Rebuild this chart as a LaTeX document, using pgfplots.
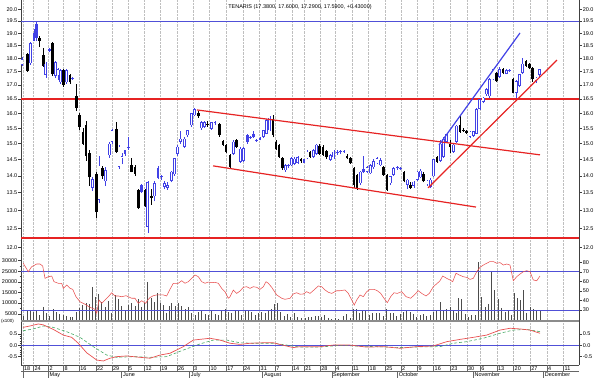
\documentclass[border=0pt]{standalone}
\usepackage{pgfplots}
\pgfplotsset{compat=1.18}
\usepackage{pgfplotstable}
\usepackage{fontspec}
\setmainfont{Liberation Sans}
\definecolor{cblue}{RGB}{65,65,230}
\definecolor{lred}{RGB}{230,35,35}
\definecolor{hblue}{RGB}{80,80,215}
\definecolor{rsired}{RGB}{232,80,80}
\definecolor{sgreen}{RGB}{70,170,100}
\newcommand\tl{\fontsize{5.5}{6}\selectfont}

\pgfplotstableread{
x o h l c t
22 17.75 18.05 17.70 17.97 0
27.3 18.17 18.22 17.50 17.53 1
30.3 17.82 18.65 17.75 18.60 0
34 18.70 19.18 18.68 19.00 2
36.7 18.80 19.48 18.69 19.40 2
39.5 18.82 18.87 18.44 18.70 1
43.5 18.15 18.40 17.68 17.72 1
45.8 17.38 17.85 17.28 17.80 0
49.3 18.28 18.40 18.25 18.36 2
52.5 18.60 18.65 17.35 17.40 1
55.5 17.35 17.90 17.28 17.85 0
58 17.36 17.65 17.20 17.60 0
60.5 17.10 17.60 17.05 17.55 0
63.5 17.55 17.60 16.95 17.00 1
66.3 17.10 17.60 17.05 17.55 0
70 17.36 17.40 17.05 17.10 1
72.7 17.22 17.30 17.18 17.26 2
76.7 16.60 17.05 16.10 16.20 1
79.5 15.95 16.00 15.45 15.55 1
83 15.38 15.50 14.95 15.00 1
86 15.60 15.75 14.45 14.60 1
89.3 14.70 14.80 13.70 13.95 1
92.7 13.65 13.95 13.55 13.90 0
96.3 14.05 14.12 12.80 12.95 1
99 13.30 14.60 13.20 14.30 0
102.7 14.22 14.30 13.90 13.98 1
105.5 13.83 14.25 13.70 14.17 0
109.3 14.63 15.05 14.55 15.00 0
112 15.06 15.48 15.00 15.43 0
116.5 15.48 15.70 14.70 14.74 1
119 14.27 14.95 14.20 14.90 0
122 14.55 14.70 14.35 14.60 0
125 14.67 14.80 14.62 14.78 2
128.3 14.85 15.20 14.80 14.90 2
131.7 14.32 14.55 14.10 14.12 1
135 14.27 14.32 14.00 14.06 1
138.3 13.58 13.62 13.05 13.07 1
141.7 13.53 13.75 13.50 13.73 2
145 13.58 13.62 13.10 13.12 1
147.8 12.55 13.85 12.38 13.80 0
151.7 13.40 13.60 13.15 13.35 1
154.5 13.40 13.85 13.25 13.78 0
158.2 13.93 14.28 13.90 14.24 2
161.3 13.95 14.02 13.88 14.00 2
164.3 13.68 13.85 13.60 13.78 0
167.4 13.65 13.80 13.58 13.72 0
171.2 13.84 14.15 13.80 14.12 0
174.5 14.04 14.55 14.00 14.53 0
177.6 14.67 14.95 14.62 14.90 0
180.7 15.06 15.40 15.00 15.16 0
184.3 14.90 15.20 14.85 15.16 0
187.4 15.27 15.45 15.20 15.43 0
191.2 15.60 16.02 15.55 16.00 0
194.7 15.93 16.17 15.90 16.15 0
198.3 16.02 16.08 15.85 15.90 1
201.5 15.50 15.75 15.45 15.70 0
204.5 15.55 15.75 15.50 15.70 0
207.6 15.65 15.75 15.55 15.60 1
211.2 15.48 15.72 15.45 15.70 0
215 15.68 15.75 15.62 15.72 2
219.5 15.64 15.68 15.22 15.27 1
222.8 15.07 15.12 14.92 14.96 1
226.1 14.96 15.00 14.70 14.74 1
229.8 14.63 14.66 14.22 14.27 1
233.3 14.68 15.10 14.65 15.06 0
236.4 15.10 15.15 14.86 14.90 1
240.2 14.43 14.88 14.40 14.84 0
243.5 14.45 14.90 14.42 14.85 0
247.3 15.06 15.30 15.00 15.27 2
250.4 15.18 15.25 15.15 15.22 2
253.5 15.21 15.40 15.18 15.32 2
256.7 15.08 15.15 15.05 15.10 2
260 15.12 15.22 15.10 15.18 2
263.5 15.21 15.45 15.18 15.43 0
266.7 15.32 15.80 15.30 15.77 0
269.8 15.43 15.90 15.40 15.86 0
272.9 15.81 15.95 15.20 15.27 1
276 15.06 15.10 14.80 14.84 1
279.2 14.96 15.00 14.55 14.58 1
282.3 14.53 14.58 14.18 14.22 1
285.4 14.17 14.35 14.12 14.32 0
288.5 14.28 14.36 14.22 14.32 2
291.6 14.32 14.58 14.28 14.53 0
294.7 14.36 14.56 14.32 14.52 0
297.8 14.40 14.60 14.36 14.56 0
300.9 14.52 14.55 14.40 14.44 1
304 14.40 14.52 14.38 14.50 2
307.1 14.53 14.78 14.50 14.74 0
310.2 14.72 14.76 14.55 14.58 1
313.3 14.58 14.82 14.55 14.78 0
316.4 14.67 15.00 14.65 14.96 0
319.5 14.92 14.97 14.65 14.68 1
322.8 14.90 14.95 14.60 14.63 1
326.3 14.75 14.80 14.52 14.56 1
330.3 14.48 14.66 14.45 14.63 0
333.8 14.56 14.78 14.52 14.74 0
337.3 14.70 14.78 14.65 14.74 2
340.6 14.72 14.78 14.68 14.74 2
343.9 14.72 14.80 14.70 14.76 2
347.2 14.62 14.66 14.50 14.53 1
350.5 14.53 14.58 14.36 14.38 1
353.8 14.22 14.25 13.65 13.73 1
357.1 14.03 14.06 13.58 13.63 1
360.4 13.78 14.15 13.72 14.12 0
363.7 14.10 14.60 14.08 14.20 2
367.0 14.12 14.30 14.08 14.26 0
370.3 14.07 14.35 14.05 14.32 0
373.6 14.25 14.50 14.20 14.45 0
376.9 14.38 14.56 14.35 14.53 0
380.2 14.32 14.55 14.28 14.48 0
383.5 14.27 14.30 14.00 14.03 1
386.8 14.03 14.05 13.55 13.58 1
390.1 13.78 14.00 13.72 13.98 0
393.4 14.03 14.25 14.00 14.22 0
397.3 14.22 14.30 14.18 14.27 2
400.6 14.20 14.26 14.16 14.22 2
403.9 14.12 14.15 13.80 13.83 1
407.2 13.73 13.90 13.62 13.88 0
410.5 13.72 13.80 13.60 13.65 1
413.8 13.70 13.85 13.65 13.82 0
417.1 13.88 14.15 13.85 14.12 0
420.4 13.95 14.20 13.92 14.15 0
423.7 14.06 14.10 13.80 13.83 1
427.0 13.75 13.88 13.70 13.85 0
430.3 13.68 13.92 13.63 13.88 0
433.6 13.98 14.52 13.95 14.50 0
436.9 14.58 14.62 14.40 14.43 1
440.2 14.45 15.10 14.42 15.00 0
443.5 14.58 15.20 14.55 15.16 0
446.8 15.06 15.35 15.02 15.32 0
450.1 15.00 15.10 14.70 14.90 1
453.4 14.74 15.00 14.70 14.96 0
456.7 15.06 15.60 15.02 15.59 0
460.0 15.60 15.93 15.35 15.38 1
463.3 15.45 15.50 15.38 15.42 1
466.6 15.42 15.45 15.32 15.35 1
469.9 15.21 15.42 15.18 15.38 0
473.2 15.25 15.42 15.22 15.40 0
476.5 15.32 16.18 15.30 16.15 0
479.8 16.15 16.52 16.12 16.50 0
483.1 16.40 16.58 16.35 16.55 0
486.4 16.67 16.88 16.62 16.85 0
489.7 16.60 17.25 16.55 17.21 0
493.0 17.21 17.60 17.18 17.58 0
496.3 17.45 17.50 17.12 17.15 1
499.6 17.30 17.66 17.25 17.60 0
502.9 17.60 17.64 17.40 17.45 1
506.2 17.42 17.58 17.40 17.55 0
509.5 17.52 17.60 17.50 17.56 2
512.8 17.21 17.25 16.70 16.72 1
516.1 16.72 17.18 16.55 17.15 0
519.4 16.98 17.42 16.95 17.40 0
522.7 17.45 18.00 17.42 17.80 0
526.0 17.89 17.95 17.68 17.71 1
529.3 17.78 17.82 17.58 17.62 1
532.6 17.64 17.68 17.12 17.21 1
535.9 17.15 17.30 17.08 17.27 0
539.2 17.38 17.60 17.29 17.59 0
}\candles

\pgfplotstableread{
x v
23 4060
27.7 6740
30.7 6740
33.3 5800
36.7 6130
39.3 4390
43.3 8000
46.7 5190
49.3 4060
53.3 7200
56 5940
59.3 4720
63.3 4390
66 4060
70 3590
72.7 3590
76 5650
79.3 7540
82.7 9090
86 9880
89.3 9410
92 17690
95.7 12700
98.7 14260
101.5 10640
105 8290
108.3 10970
111.7 5470
115 13790
118.3 12050
121.7 8620
125 6740
128.3 9090
131.7 9880
135 8620
138 11770
141.7 8290
144.6 9880
147.7 20040
151 12360
154 10640
157.3 14590
160.4 9880
163.2 9090
166.1 5190
168.9 8620
171.7 10170
175 8620
178.3 9880
181.7 8620
185 7200
188.3 8290
191.7 5190
195 4390
198.3 5650
201.7 6280
205 5030
208.3 4230
211.7 6740
215 5030
218.3 4390
221.7 6740
225 7200
228.3 5940
231.7 5470
235 6740
238.3 6280
241.7 4390
245 6430
248.3 6740
251.7 5940
255 4390
258.3 5190
261.7 5940
265 5190
268.3 6430
271.7 7200
274.6 9720
277.5 10170
280.7 5800
284 4060
287.3 5030
290.7 3590
294 5190
297.3 3590
301.7 2840
305 3000
308.3 3310
311.7 3590
315 3920
318.3 3920
321.5 3300
324.6 4230
328.3 2840
331.7 2400
335 3140
338.5 2600
343.3 3920
346.7 5030
350 2840
353.3 7070
356.3 7070
359.3 5470
362.7 6280
365.7 6280
369 4550
372.7 5470
376 5470
379.3 5190
383.3 3920
386.7 7070
390 5470
393.3 5470
396.7 3920
400 4720
403.3 5940
406.6 6740
410 5940
413.3 5030
416.7 3590
420 4390
423.3 4720
426.7 3920
430 4390
433.3 5940
436.7 6740
440 10360
443.3 6740
446.6 7070
449.9 8290
453 6740
456 5190
458.3 12520
461.7 11770
465 5030
468.3 3590
471.7 4390
475 4390
478.3 29440
481.7 12990
485 8000
488.3 9720
491.3 25210
494.5 16140
498.3 11910
501.7 7540
505 5940
508.3 6740
511 4390
514 14870
517.3 12240
520.3 11440
523.5 16140
526.7 5190
530 8000
533.3 7070
536.7 6740
540 6740
}\volume

\pgfplotstableread{
x r
23.3 79
28.3 70.1
31.7 75.4
36.7 78.2
40 78.2
42.7 76.1
45 63.2
48.3 64.9
51.7 65.6
54 59.7
58.3 58.0
61.7 58
63.3 52.7
66.7 56.2
70 52.7
72.7 51.7
76 43.9
80 38.7
85 36
90 32.8
95 30.7
96.7 26.5
99 40.5
101.7 37
105 40.5
108.3 43.9
111.7 48.1
115 44.7
118.3 44.7
121.7 43.9
126 45
131.7 42.3
135 42.3
138.3 37
141.7 39.7
145.7 37
147.7 40.5
150 43
153.3 45
156.7 45.8
160 45.8
163.3 45.8
166.7 44.7
170 51.7
173.3 58
178.3 58
181.7 60.7
185 58
188.3 59.7
191.7 63.2
195 66.7
198.3 64.9
201.7 59.7
205 58
208.3 59.3
211.7 58.7
215 59
218.3 58
221.7 52.7
225 49.2
228.3 42.3
230 43.9
233.3 50.9
236.7 47.4
240 49.9
243.3 53.8
246.7 54.4
250 52.7
253.3 54.4
256.7 53.8
260 51.7
263.3 54.4
266 59.7
268.3 58
271.7 53.8
276.7 45.8
281.7 42.3
285 41.2
290 42.3
293.3 46.8
296.7 48.1
300 46.5
303.3 46.8
306.7 49.2
310 47.4
314 51
318.3 55.2
321.7 54.4
325 51
328.3 48.6
331.7 47.4
336.7 50.2
340 50.2
345 51
348.3 47.4
351.7 40.5
354.3 35.2
356.7 40.5
360 45.7
363.3 44
366.7 49.2
370 51.7
374 51.7
377.3 50.2
380.7 47.4
384 42.3
387.3 37.7
390.7 44
394 48.1
397.3 47.4
401.7 49.2
406 44
410.7 42.3
415 46.5
418.3 50.2
421.7 47.4
426 44.7
429.3 47.4
433.3 54.4
437.3 58
440 60.7
442.7 65.6
446.7 63.2
450 61.5
452.7 59.7
456 68.5
459.3 66.7
463.3 64.9
466.7 64.2
470 62.1
473.3 63.2
476.7 70.1
480 74.7
483.3 77.1
486.7 79
490 80.8
493.3 80.8
496.7 79
500 79.7
503.3 77.1
506.7 78.2
510 77.1
513.3 60.7
516.7 64.9
520 67.7
523.3 70.1
526.7 71.2
530 70.1
533.3 61.5
536.7 60.7
540 65.6
}\rsi

\pgfplotstableread{
x m
23 0.79
30 0.85
38.3 0.94
43.3 0.90
53.3 0.70
63.3 0.45
71.7 0.35
78.3 0.09
86.7 -0.33
96.7 -0.65
103.3 -0.69
110 -0.57
116.7 -0.50
126.7 -0.47
140 -0.53
150 -0.57
160 -0.43
170 -0.35
183.3 -0.06
193.3 0.23
210 0.31
220 0.23
230 0.09
240 0.04
250 0.09
263.3 0.11
273.3 0.11
283.3 0.00
293.3 -0.10
300 -0.06
320 -0.06
333.3 0.01
350 0.01
366.7 -0.08
383.3 -0.06
400 -0.13
416.7 -0.06
433.3 -0.03
446.7 0.16
460 0.26
473.3 0.35
486.7 0.45
500 0.67
510 0.75
520 0.72
530 0.67
540 0.53
}\macd

\pgfplotstableread{
x s
23 0.64
33.3 0.72
43.3 0.85
53.3 0.79
66.7 0.60
80 0.35
93.3 -0.06
106.7 -0.43
116.7 -0.53
133.3 -0.50
150 -0.53
166.7 -0.50
183.3 -0.21
200 0.06
213.3 0.23
226.7 0.23
240 0.11
253.3 0.09
273.3 0.09
286.7 0.01
300 -0.08
320 -0.08
340 0.00
360 -0.04
383.3 -0.07
400 -0.10
420 -0.07
440 -0.06
453.3 0.09
466.7 0.16
483.3 0.31
500 0.53
513.3 0.67
526.7 0.70
540 0.60
}\signal

% horizontal levels and trend lines (prices)
\pgfplotstableread{
x p
21 19.5
579 19.5
}\levA
\pgfplotstableread{
x p
21 16.5
579 16.5
}\levB
\pgfplotstableread{
x p
21 12.25
579 12.25
}\levC
\pgfplotstableread{
x p
197 16.12
540 14.64
}\trA
\pgfplotstableread{
x p
213 14.30
476 13.09
}\trB
\pgfplotstableread{
x p
428 13.64
557 17.94
}\trC
\pgfplotstableread{
x p
439 14.95
520 19.01
}\trD

\pgfplotsset{
  panel/.style={scale only axis, width=558bp, xmin=21, xmax=579, anchor=south west,
    xtick={22.7,33.3,48.3,63.3,79,95.7,111.7,127.7,144.3,160,176.7,192.7,209.3,226,242.7,259.3,275,291.7,304,320,335,351.7,368.3,385,400.7,417.3,433.3,450,466.7,480,496.7,513.3,530,546.7,563.3},
    xticklabels={}, xmajorgrids, major grid style={black!25, densely dotted, line width=0.4pt},
    major x tick style={draw=none}, minor x tick style={draw=none},
    separate axis lines, x axis line style={draw=none}, y axis line style={black!75, line width=0.5pt},
    tick label style={font=\tl}, tick align=outside, major tick length=2.6bp, minor tick length=1.4bp,
    ytick style={black!75, line width=0.4pt}, yticklabel style={inner sep=1pt},
    scaled ticks=false},
  rlab/.style={xmajorgrids=false, y axis line style={draw=none}, ytick style={draw=none}, minor y tick num=0},
  cnd/.style={draw=none, mark=none, forget plot, restrict expr to domain={\thisrow{t}}{#1:#1}},
  pax/.style={panel, at={(21bp,128bp)}, height=250bp, ymin=2.479894, ymax=3.015535,
    ytick={2.484907,2.525729,2.564949,2.602690,2.639057,2.674149,2.708050,2.740840,2.772589,2.803360,2.833213,2.862201,2.890372,2.917771,2.944439,2.970414,2.995732},
    yticklabels={12.0,12.5,13.0,13.5,14.0,14.5,15.0,15.5,16.0,16.5,17.0,17.5,18.0,18.5,19.0,19.5,20.0},
    minor y tick num=4},
}

\begin{document}
\begin{tikzpicture}
\path[use as bounding box] (0,0) rectangle (600bp,378bp);

% ---------- price panel (log price scale: y = ln(price)) ----------
\begin{axis}[pax, ytick pos=both, yticklabel pos=left]
\addplot[hblue, line width=0.9pt] table[x=x, y expr={ln(\thisrow{p})}] {\levA};
\addplot[lred, line width=1.7pt] table[x=x, y expr={ln(\thisrow{p})}] {\levB};
\addplot[lred, line width=1.7pt] table[x=x, y expr={ln(\thisrow{p})}] {\levC};
\addplot[cnd=1, error bars/y dir=plus, error bars/y explicit, error bars/error mark=none, error bars/error bar style={draw=black, line width=0.5pt}]
  table[x=x, y expr={ln(\thisrow{l})}, y error expr={ln(\thisrow{h})-ln(\thisrow{l})}] {\candles};
\addplot[cnd=1, error bars/y dir=plus, error bars/y explicit, error bars/error mark=none, error bars/error bar style={draw=black, line width=2.5pt}]
  table[x=x, y expr={ln(min(\thisrow{o},\thisrow{c}))}, y error expr={max(abs(ln(\thisrow{c})-ln(\thisrow{o})),0.002)}] {\candles};
\addplot[cnd=2, error bars/y dir=plus, error bars/y explicit, error bars/error mark=none, error bars/error bar style={draw=cblue, line width=0.5pt}]
  table[x=x, y expr={ln(\thisrow{l})}, y error expr={ln(\thisrow{h})-ln(\thisrow{l})}] {\candles};
\addplot[cnd=2, error bars/y dir=plus, error bars/y explicit, error bars/error mark=none, error bars/error bar style={draw=cblue, line width=2.5pt}]
  table[x=x, y expr={ln(min(\thisrow{o},\thisrow{c}))}, y error expr={max(abs(ln(\thisrow{c})-ln(\thisrow{o})),0.002)}] {\candles};
\addplot[cnd=0, error bars/y dir=plus, error bars/y explicit, error bars/error mark=none, error bars/error bar style={draw=cblue, line width=0.5pt}]
  table[x=x, y expr={ln(\thisrow{l})}, y error expr={ln(\thisrow{h})-ln(\thisrow{l})}] {\candles};
\addplot[cnd=0, error bars/y dir=plus, error bars/y explicit, error bars/error mark=none, error bars/error bar style={draw=cblue, line width=2.8pt}]
  table[x=x, y expr={ln(min(\thisrow{o},\thisrow{c}))}, y error expr={max(abs(ln(\thisrow{c})-ln(\thisrow{o})),0.002)}] {\candles};
\addplot[cnd=0, error bars/y dir=plus, error bars/y explicit, error bars/error mark=none, error bars/error bar style={draw=white, line width=1.3pt, shorten <=0.6pt, shorten >=0.6pt}]
  table[x=x, y expr={ln(min(\thisrow{o},\thisrow{c}))}, y error expr={max(abs(ln(\thisrow{c})-ln(\thisrow{o})),0.002)}] {\candles};
\addplot[lred, line width=1.2pt] table[x=x, y expr={ln(\thisrow{p})}] {\trA};
\addplot[lred, line width=1.2pt] table[x=x, y expr={ln(\thisrow{p})}] {\trB};
\addplot[lred, line width=1.2pt] table[x=x, y expr={ln(\thisrow{p})}] {\trC};
\addplot[cblue, line width=1.2pt] table[x=x, y expr={ln(\thisrow{p})}] {\trD};
\end{axis}
\begin{axis}[pax, rlab, ytick pos=right, yticklabel pos=right]
\addplot[draw=none] table[x=x, y expr={ln(\thisrow{p})}] {\levB};
\end{axis}

% ---------- volume / RSI panel ----------
\begin{axis}[panel, at={(21bp,57bp)}, height=71bp, ymin=1570, ymax=34930,
  ytick={5000,10000,15000,20000,25000,30000}, yticklabels={5000,10000,15000,20000,25000,30000},
  ytick pos=left, minor y tick num=1]
\addplot[ycomb, black!70, line width=0.6pt, mark=none] table[x=x, y=v] {\volume};
\end{axis}
\begin{axis}[panel, at={(21bp,57bp)}, height=71bp, ymin=18.47, ymax=92.9, xmajorgrids=false,
  y axis line style={draw=none},
  ytick={30,40,50,60,70,80}, yticklabels={30,40,50,60,70,80}, ytick pos=right, yticklabel pos=right, minor y tick num=1]
\addplot[hblue, line width=0.8pt] coordinates {(21,70) (579,70)};
\addplot[hblue, line width=0.8pt] coordinates {(21,30) (579,30)};
\addplot[rsired, line width=0.55pt] table[x=x, y=r] {\rsi};
\end{axis}

% ---------- MACD panel ----------
\begin{axis}[panel, at={(21bp,13bp)}, height=44bp, ymin=-0.868, ymax=1.07,
  ytick={-0.5,0,0.5}, yticklabels={-0.5,0.0,0.5}, ytick pos=both, yticklabel pos=left, minor y tick num=4]
\addplot[hblue, line width=0.8pt] coordinates {(21,0) (579,0)};
\addplot[sgreen, densely dashed, line width=0.6pt] table[x=x, y=s] {\signal};
\addplot[rsired, line width=0.7pt] table[x=x, y=m] {\macd};
\end{axis}
\begin{axis}[panel, rlab, at={(21bp,13bp)}, height=44bp, ymin=-0.868, ymax=1.07,
  ytick={-0.5,0,0.5}, yticklabels={-0.5,0.0,0.5}, ytick pos=right, yticklabel pos=right]
\addplot[draw=none] coordinates {(300,0)};
\end{axis}

% ---------- date strip ----------
\begin{axis}[scale only axis, width=558bp, height=13bp, at={(21bp,0bp)}, anchor=south west,
  xmin=21, xmax=579, ymin=0, ymax=2, hide axis, clip=false]
\addplot[draw=none] coordinates {(300,1)};
\draw[black!70, line width=0.7pt] (axis cs:21,2) -- (axis cs:579,2);
\draw[black!60, line width=0.4pt] (axis cs:21,1) -- (axis cs:579,1);
\pgfplotsinvokeforeach{22.7,33.3,48.3,63.3,79,95.7,111.7,127.7,144.3,160,176.7,192.7,209.3,226,242.7,259.3,275,291.7,304,320,335,351.7,368.3,385,400.7,417.3,433.3,450,466.7,480,496.7,513.3,530,546.7,563.3}{
  \draw[black!60, line width=0.4pt] (axis cs:#1,1) -- (axis cs:#1,2);}
\pgfplotsinvokeforeach{22.7,48.3,121.6,189.4,262.6,331.7,397.4,473.3,543.4}{
  \draw[black!60, line width=0.4pt] (axis cs:#1,0) -- (axis cs:#1,1);}
\node[anchor=west, font=\tl, inner sep=0pt, xshift=1.2bp] at (axis cs:22.7,1.5) {18};
\node[anchor=west, font=\tl, inner sep=0pt, xshift=1.2bp] at (axis cs:33.3,1.5) {24};
\node[anchor=west, font=\tl, inner sep=0pt, xshift=1.2bp] at (axis cs:48.3,1.5) {2};
\node[anchor=west, font=\tl, inner sep=0pt, xshift=1.2bp] at (axis cs:63.3,1.5) {8};
\node[anchor=west, font=\tl, inner sep=0pt, xshift=1.2bp] at (axis cs:79,1.5) {16};
\node[anchor=west, font=\tl, inner sep=0pt, xshift=1.2bp] at (axis cs:95.7,1.5) {22};
\node[anchor=west, font=\tl, inner sep=0pt, xshift=1.2bp] at (axis cs:111.7,1.5) {29};
\node[anchor=west, font=\tl, inner sep=0pt, xshift=1.2bp] at (axis cs:127.7,1.5) {5};
\node[anchor=west, font=\tl, inner sep=0pt, xshift=1.2bp] at (axis cs:144.3,1.5) {12};
\node[anchor=west, font=\tl, inner sep=0pt, xshift=1.2bp] at (axis cs:160,1.5) {19};
\node[anchor=west, font=\tl, inner sep=0pt, xshift=1.2bp] at (axis cs:176.7,1.5) {26};
\node[anchor=west, font=\tl, inner sep=0pt, xshift=1.2bp] at (axis cs:192.7,1.5) {3};
\node[anchor=west, font=\tl, inner sep=0pt, xshift=1.2bp] at (axis cs:209.3,1.5) {10};
\node[anchor=west, font=\tl, inner sep=0pt, xshift=1.2bp] at (axis cs:226,1.5) {17};
\node[anchor=west, font=\tl, inner sep=0pt, xshift=1.2bp] at (axis cs:242.7,1.5) {24};
\node[anchor=west, font=\tl, inner sep=0pt, xshift=1.2bp] at (axis cs:259.3,1.5) {31};
\node[anchor=west, font=\tl, inner sep=0pt, xshift=1.2bp] at (axis cs:275,1.5) {7};
\node[anchor=west, font=\tl, inner sep=0pt, xshift=1.2bp] at (axis cs:291.7,1.5) {14};
\node[anchor=west, font=\tl, inner sep=0pt, xshift=1.2bp] at (axis cs:304,1.5) {21};
\node[anchor=west, font=\tl, inner sep=0pt, xshift=1.2bp] at (axis cs:320,1.5) {28};
\node[anchor=west, font=\tl, inner sep=0pt, xshift=1.2bp] at (axis cs:335,1.5) {4};
\node[anchor=west, font=\tl, inner sep=0pt, xshift=1.2bp] at (axis cs:351.7,1.5) {11};
\node[anchor=west, font=\tl, inner sep=0pt, xshift=1.2bp] at (axis cs:368.3,1.5) {18};
\node[anchor=west, font=\tl, inner sep=0pt, xshift=1.2bp] at (axis cs:385,1.5) {25};
\node[anchor=west, font=\tl, inner sep=0pt, xshift=1.2bp] at (axis cs:400.7,1.5) {2};
\node[anchor=west, font=\tl, inner sep=0pt, xshift=1.2bp] at (axis cs:417.3,1.5) {9};
\node[anchor=west, font=\tl, inner sep=0pt, xshift=1.2bp] at (axis cs:433.3,1.5) {16};
\node[anchor=west, font=\tl, inner sep=0pt, xshift=1.2bp] at (axis cs:450,1.5) {23};
\node[anchor=west, font=\tl, inner sep=0pt, xshift=1.2bp] at (axis cs:466.7,1.5) {30};
\node[anchor=west, font=\tl, inner sep=0pt, xshift=1.2bp] at (axis cs:480,1.5) {6};
\node[anchor=west, font=\tl, inner sep=0pt, xshift=1.2bp] at (axis cs:496.7,1.5) {13};
\node[anchor=west, font=\tl, inner sep=0pt, xshift=1.2bp] at (axis cs:513.3,1.5) {20};
\node[anchor=west, font=\tl, inner sep=0pt, xshift=1.2bp] at (axis cs:530,1.5) {27};
\node[anchor=west, font=\tl, inner sep=0pt, xshift=1.2bp] at (axis cs:546.7,1.5) {4};
\node[anchor=west, font=\tl, inner sep=0pt, xshift=1.2bp] at (axis cs:563.3,1.5) {11};
\node[anchor=west, font=\tl, inner sep=0pt, xshift=1.2bp] at (axis cs:48.3,0.5) {May};
\node[anchor=west, font=\tl, inner sep=0pt, xshift=1.2bp] at (axis cs:121.6,0.5) {June};
\node[anchor=west, font=\tl, inner sep=0pt, xshift=1.2bp] at (axis cs:189.4,0.5) {July};
\node[anchor=west, font=\tl, inner sep=0pt, xshift=1.2bp] at (axis cs:262.6,0.5) {August};
\node[anchor=west, font=\tl, inner sep=0pt, xshift=1.2bp] at (axis cs:331.7,0.5) {September};
\node[anchor=west, font=\tl, inner sep=0pt, xshift=1.2bp] at (axis cs:397.4,0.5) {October};
\node[anchor=west, font=\tl, inner sep=0pt, xshift=1.2bp] at (axis cs:473.3,0.5) {November};
\node[anchor=west, font=\tl, inner sep=0pt, xshift=1.2bp] at (axis cs:543.4,0.5) {December};
\end{axis}

\draw[black!45, line width=1.6bp] (21bp,57bp) -- (579bp,57bp);
\node[font=\tl, inner sep=0pt] at (300bp,370.5bp) {TENARIS (17.3800, 17.6000, 17.2900, 17.5900, +0.43000)};
\node[font=\fontsize{4.5}{5}\selectfont, inner sep=0pt, anchor=west] at (1bp,57bp) {(x100)};
\end{tikzpicture}
\end{document}
